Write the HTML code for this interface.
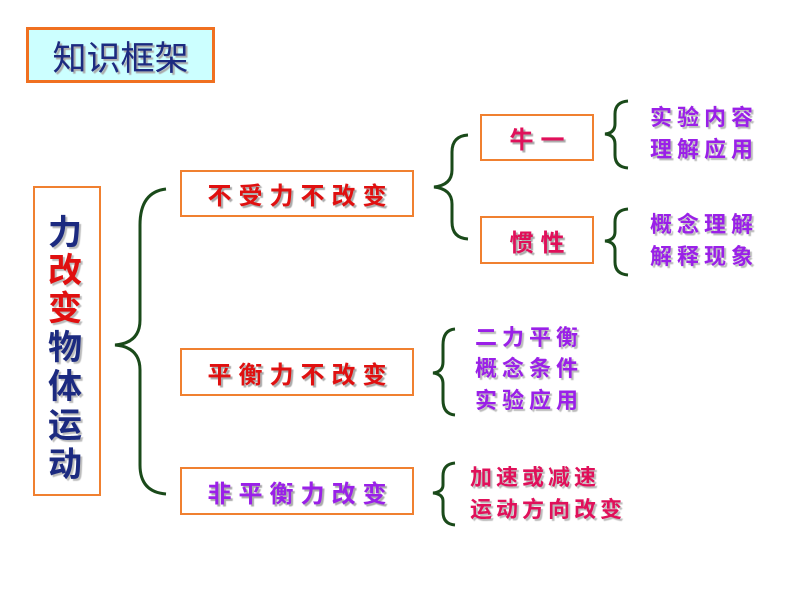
<!DOCTYPE html>
<html><head><meta charset="utf-8"><style>
body{margin:0;width:800px;height:600px;background:#fff;position:relative;overflow:hidden;font-family:"Liberation Sans","Noto Sans CJK SC",sans-serif;}
.a{position:absolute;}
.box{position:absolute;border:2px solid #f08030;box-sizing:border-box;background:#fff;display:flex;align-items:center;justify-content:center;font-weight:bold;text-shadow:2px 2px 1px #aaa;}
.t{position:absolute;font-weight:bold;text-shadow:2px 2px 1px #bbb;white-space:nowrap;line-height:1;}
</style></head><body>
<div class="box" style="left:26px;top:27px;width:189px;height:56px;background:#ccffff;border:3px solid #f07020;color:#1c2a80;font-size:34px;font-weight:normal;">知识框架</div>
<div class="box" style="left:33px;top:186px;width:68px;height:310px;"></div>
<div class="t" style="left:48px;top:216px;font-size:34px;color:#1c2a80;">力</div>
<div class="t" style="left:48px;top:254px;font-size:34px;color:#e01010;">改</div>
<div class="t" style="left:48px;top:292px;font-size:34px;color:#e01010;">变</div>
<div class="t" style="left:48px;top:331px;font-size:34px;color:#1c2a80;">物</div>
<div class="t" style="left:48px;top:370px;font-size:34px;color:#1c2a80;">体</div>
<div class="t" style="left:48px;top:409px;font-size:34px;color:#1c2a80;">运</div>
<div class="t" style="left:48px;top:448px;font-size:34px;color:#1c2a80;">动</div>

<div class="box" style="left:180px;top:170px;width:234px;height:47px;color:#e01010;font-size:24px;letter-spacing:7px;padding-left:7px;">不受力不改变</div>
<div class="box" style="left:180px;top:348px;width:234px;height:48px;color:#e01010;font-size:24px;letter-spacing:7px;padding-left:7px;">平衡力不改变</div>
<div class="box" style="left:180px;top:467px;width:234px;height:48px;color:#9a20e8;font-size:24px;letter-spacing:7px;padding-left:7px;">非平衡力改变</div>
<div class="box" style="left:480px;top:114px;width:114px;height:47px;color:#e0105a;font-size:24px;letter-spacing:7px;padding-left:7px;">牛一</div>
<div class="box" style="left:480px;top:216px;width:114px;height:48px;color:#e0105a;font-size:24px;letter-spacing:7px;padding-left:7px;">惯性</div>

<svg class="a" style="left:0;top:0" width="800" height="600" fill="none" stroke="#1a4a1a" stroke-width="3">
<path d="M166,189 Q140,192 140,225 L140,320 Q140,343 115,345 Q140,347 140,370 L140,465 Q140,492 166,494"/>
<path d="M468,135 Q452,136 452,152 L452,170 Q452,185 434,187 Q452,189 452,204 L452,222 Q452,238 468,239"/>
<path d="M628,101 Q615,102 615,114 L615,124 Q615,133 605,134 Q615,135 615,144 L615,155 Q615,167 628,168"/>
<path d="M628,209 Q615,210 615,222 L615,232 Q615,240 605,241 Q615,242 615,250 L615,262 Q615,274 628,275"/>
<path d="M455,329 Q443,330 443,345 L443,362 Q443,372 433,373 Q443,374 443,384 L443,400 Q443,414 455,415"/>
<path d="M455,463 Q443,464 443,476 L443,485 Q443,492 433,493 Q443,494 443,501 L443,512 Q443,524 455,525"/>
</svg>

<div class="t" style="left:650px;top:107px;font-size:22px;color:#9a20e8;letter-spacing:5px;">实验内容</div>
<div class="t" style="left:650px;top:139px;font-size:22px;color:#9a20e8;letter-spacing:5px;">理解应用</div>
<div class="t" style="left:650px;top:214px;font-size:22px;color:#9a20e8;letter-spacing:5px;">概念理解</div>
<div class="t" style="left:650px;top:246px;font-size:22px;color:#9a20e8;letter-spacing:5px;">解释现象</div>
<div class="t" style="left:475px;top:327px;font-size:22px;color:#9a20e8;letter-spacing:5px;">二力平衡</div>
<div class="t" style="left:475px;top:358px;font-size:22px;color:#9a20e8;letter-spacing:5px;">概念条件</div>
<div class="t" style="left:475px;top:390px;font-size:22px;color:#9a20e8;letter-spacing:5px;">实验应用</div>
<div class="t" style="left:470px;top:467px;font-size:22px;color:#e0105a;letter-spacing:4px;">加速或减速</div>
<div class="t" style="left:470px;top:499px;font-size:22px;color:#e0105a;letter-spacing:4px;">运动方向改变</div>
</body></html>
